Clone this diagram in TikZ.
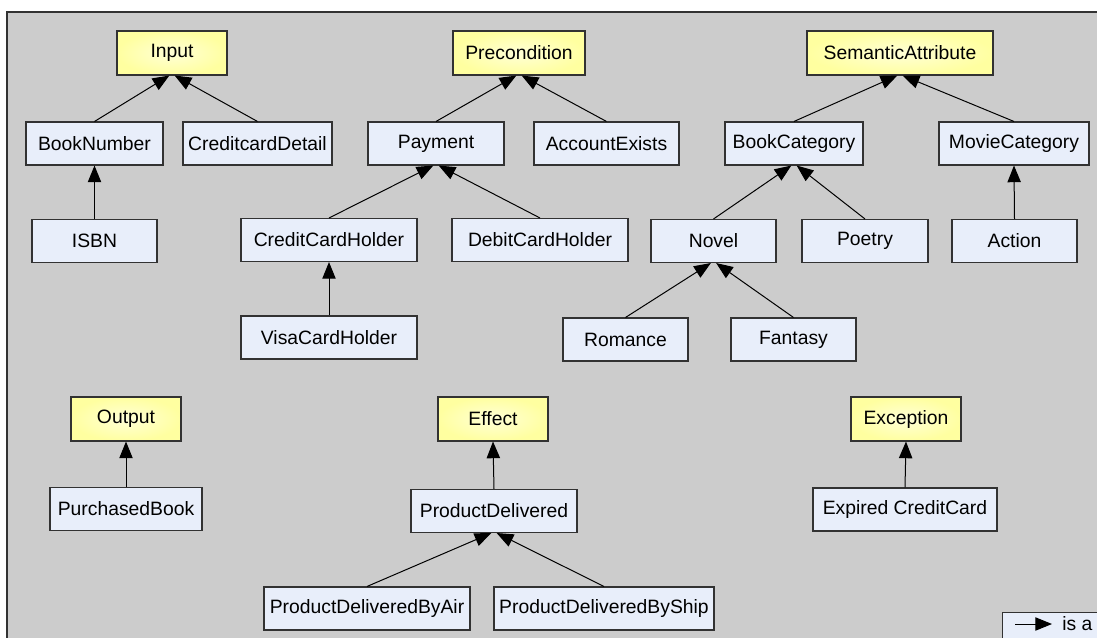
\documentclass[tikz,border=0pt]{standalone}
\usepackage{fontspec}
\setmainfont{Liberation Sans}
\usetikzlibrary{arrows.meta}

\definecolor{panelgray}{RGB}{204,204,204}
\definecolor{clsblue}{RGB}{232,238,250}
\definecolor{rootin}{RGB}{255,255,215}
\definecolor{rootout}{RGB}{255,255,160}
\definecolor{edgegray}{RGB}{50,50,50}

\tikzset{
  cls/.style={draw=edgegray, fill=clsblue, line width=0.8pt, minimum height=32.25pt,
    minimum width=93.75pt, inner sep=2pt, font=\fontsize{14.5}{17}\selectfont},
  root/.style={cls, inner color=rootin, outer color=rootout, minimum height=33pt, minimum width=82.5pt},
  boxw/.style={minimum width=#1*0.75pt},
  isa/.style={-{Triangle[length=12.5pt,width=10pt]}, line width=0.75pt, black},
}

\begin{document}
\begin{tikzpicture}[x=0.75pt, y=-0.75pt]
\clip (0,0) rectangle (1097,637);
\fill[white] (0,0) rectangle (1097,637);
\draw[fill=panelgray, draw=edgegray, line width=1.1pt] (7,12) rectangle (1120,660);

% top concepts
\node[root] (input) at (172,53) {Input};
\node[root, boxw=132] (precond) at (519,53) {Precondition};
\node[root, boxw=186] (semattr) at (900,53) {SemanticAttribute};
\node[root] (output) at (126,419) {Output};
\node[root] (effect) at (493,419) {Effect};
\node[root] (exception) at (906,419) {Exception};

% sub classes
\node[cls, boxw=137] (booknum) at (94.5,143.5) {BookNumber};
\node[cls, boxw=149] (ccdetail) at (257.5,143.5) {CreditcardDetail};
\node[cls, boxw=136] (payment) at (436,143.5) {Payment};
\node[cls, boxw=145] (accexists) at (606.5,143.5) {AccountExists};
\node[cls, boxw=138] (bookcat) at (794,143.5) {BookCategory};
\node[cls, boxw=150] (moviecat) at (1014,143.5) {MovieCategory};
\node[cls] (isbn) at (94.5,241) {ISBN};
\node[cls, boxw=176] (cch) at (329,240) {CreditCardHolder};
\node[cls, boxw=176] (dch) at (540,240) {DebitCardHolder};
\node[cls] (novel) at (713.5,241) {Novel};
\node[cls, boxw=126] (poetry) at (865,241) {Poetry};
\node[cls] (action) at (1014.5,241) {Action};
\node[cls, boxw=176] (visa) at (329,337.5) {VisaCardHolder};
\node[cls] (romance) at (625.5,339.5) {Romance};
\node[cls] (fantasy) at (793.5,339.5) {Fantasy};
\node[cls, boxw=152] (purchased) at (126,509) {PurchasedBook};
\node[cls, boxw=166] (proddel) at (494,511) {ProductDelivered};
\node[cls, boxw=206] (byair) at (367,608.5) {ProductDeliveredByAir};
\node[cls, boxw=220] (byship) at (604,608.5) {ProductDeliveredByShip};
\node[cls, boxw=184] (expired) at (905,509.5) {Expired CreditCard};

% is-a links
\draw[isa] (booknum.north) -- ([xshift=-2pt]input.south);
\draw[isa] (ccdetail.north) -- ([xshift=2pt]input.south);
\draw[isa] (isbn.north) -- (booknum.south);
\draw[isa] (payment.north) -- ([xshift=-2pt]precond.south);
\draw[isa] (accexists.north) -- ([xshift=2pt]precond.south);
\draw[isa] (cch.north) -- ([xshift=-2pt]payment.south);
\draw[isa] (dch.north) -- ([xshift=2pt]payment.south);
\draw[isa] (visa.north) -- (cch.south);
\draw[isa] (bookcat.north) -- ([xshift=-2pt]semattr.south);
\draw[isa] (moviecat.north) -- ([xshift=2pt]semattr.south);
\draw[isa] (novel.north) -- ([xshift=-2pt]bookcat.south);
\draw[isa] (poetry.north) -- ([xshift=2pt]bookcat.south);
\draw[isa] (action.north) -- (moviecat.south);
\draw[isa] (romance.north) -- ([xshift=-2pt]novel.south);
\draw[isa] (fantasy.north) -- ([xshift=2pt]novel.south);
\draw[isa] (purchased.north) -- (output.south);
\draw[isa] (proddel.north) -- (effect.south);
\draw[isa] (byair.north) -- ([xshift=-2pt]proddel.south);
\draw[isa] (byship.north) -- ([xshift=2pt]proddel.south);
\draw[isa] (expired.north) -- (exception.south);

% legend
\node[cls, anchor=north west, minimum width=110pt, minimum height=40pt] (legend) at (1002,612) {};
\coordinate (lega) at (1015,624);
\coordinate (legb) at (1052,624);
\draw[isa] (lega) -- (legb);
\node[anchor=west, inner sep=0pt, font=\fontsize{14.5}{17}\selectfont] (legtext) at (1062,624) {is a};
\end{tikzpicture}
\end{document}
